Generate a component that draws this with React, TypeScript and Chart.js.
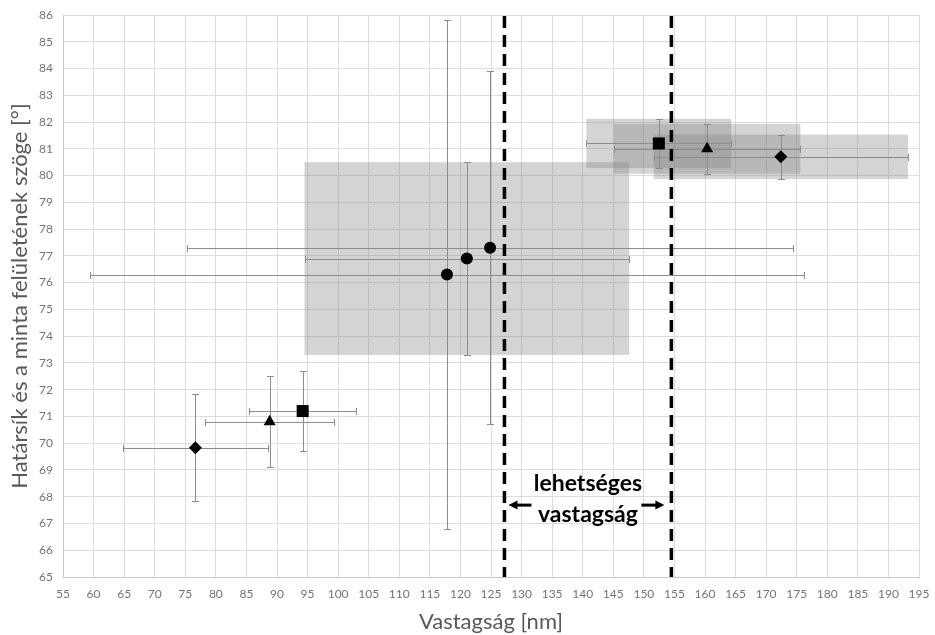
import React, { useEffect, useRef } from "react";
import { Chart, registerables } from "chart.js";

Chart.register(...registerables);

// ---- axis ranges / tick steps ----
const xRange = [55, 195];
const xStep = 5;
const yRange = [65, 86];
const yStep = 1;

// ---- series: circles ----
const circleX = [117.8, 121.05, 124.85];
const circleY = [76.3, 76.9, 77.3];
const circleXErr = [58.4, 26.55, 49.55];
const circleYErr = [9.5, 3.6, 6.6];
const circleBox = [false, true, false];

// ---- series: squares ----
const squareX = [94.2, 152.45];
const squareY = [71.2, 81.2];
const squareXErr = [8.8, 11.85];
const squareYErr = [1.5, 0.92];
const squareBox = [false, true];

// ---- series: triangles ----
const triangleX = [88.8, 160.35];
const triangleY = [70.8, 81.0];
const triangleXErr = [10.5, 15.25];
const triangleYErr = [1.7, 0.93];
const triangleBox = [false, true];

// ---- series: diamonds ----
const diamondX = [76.65, 172.4];
const diamondY = [69.83, 80.7];
const diamondXErr = [11.85, 20.8];
const diamondYErr = [2.0, 0.83];
const diamondBox = [false, true];

// ---- annotation ----
const rangeLines = [127.2, 154.5];
const rangeLabel = ["lehetséges", "vastagság"];
const rangeLabelY = 67.91;

const xTitle = "Vastagság [nm]";
const yTitle = "Határsík és a minta felületének szöge [°]";

const FONT = "Lato, 'Open Sans', sans-serif";

function pts(xs: number[], ys: number[], xe: number[], ye: number[], box: boolean[]) {
  return xs.map((x, i) => ({ x, y: ys[i], xErr: xe[i], yErr: ye[i], box: box[i] }));
}

const overlayPlugin = {
  id: "overlay",
  beforeDatasetsDraw(chart: any) {
    const { ctx, chartArea: a } = chart;
    const xs = chart.scales.x;
    const ys = chart.scales.y;
    ctx.save();
    ctx.beginPath();
    ctx.rect(a.left, a.top, a.right - a.left, a.bottom - a.top);
    ctx.clip();

    // shaded uncertainty boxes
    ctx.fillStyle = "rgba(128,128,128,0.34)";
    chart.data.datasets.forEach((ds: any) => {
      ds.data.forEach((p: any) => {
        if (!p.box) return;
        const x0 = xs.getPixelForValue(p.x - p.xErr);
        const x1 = xs.getPixelForValue(p.x + p.xErr);
        const y0 = ys.getPixelForValue(p.y + p.yErr);
        const y1 = ys.getPixelForValue(p.y - p.yErr);
        ctx.fillRect(x0, y0, x1 - x0, y1 - y0);
      });
    });

    // error bars
    ctx.strokeStyle = "#8c8c8c";
    ctx.lineWidth = 1;
    const cap = 3.5;
    chart.data.datasets.forEach((ds: any) => {
      ds.data.forEach((p: any) => {
        const cx = Math.round(xs.getPixelForValue(p.x)) + 0.5;
        const cy = Math.round(ys.getPixelForValue(p.y)) + 0.5;
        const xl = Math.round(xs.getPixelForValue(p.x - p.xErr)) + 0.5;
        const xr = Math.round(xs.getPixelForValue(p.x + p.xErr)) + 0.5;
        const yt = Math.round(ys.getPixelForValue(p.y + p.yErr)) + 0.5;
        const yb = Math.round(ys.getPixelForValue(p.y - p.yErr)) + 0.5;
        ctx.beginPath();
        ctx.moveTo(xl, cy);
        ctx.lineTo(xr, cy);
        ctx.moveTo(xl, cy - cap);
        ctx.lineTo(xl, cy + cap);
        ctx.moveTo(xr, cy - cap);
        ctx.lineTo(xr, cy + cap);
        ctx.moveTo(cx, yt);
        ctx.lineTo(cx, yb);
        ctx.moveTo(cx - cap, yt);
        ctx.lineTo(cx + cap, yt);
        ctx.moveTo(cx - cap, yb);
        ctx.lineTo(cx + cap, yb);
        ctx.stroke();
      });
    });

    // dashed range lines
    ctx.strokeStyle = "#000";
    ctx.lineWidth = 3.5;
    ctx.setLineDash([12, 7]);
    rangeLines.forEach((v) => {
      const px = xs.getPixelForValue(v);
      ctx.beginPath();
      ctx.moveTo(px, a.top + 1);
      ctx.lineTo(px, a.bottom);
      ctx.stroke();
    });
    ctx.setLineDash([]);
    ctx.restore();
  },
  afterDatasetsDraw(chart: any) {
    const { ctx } = chart;
    const xs = chart.scales.x;
    const ys = chart.scales.y;
    const L = xs.getPixelForValue(rangeLines[0]);
    const R = xs.getPixelForValue(rangeLines[1]);
    const cx = (L + R) / 2;
    const cy = ys.getPixelForValue(rangeLabelY);
    ctx.save();
    ctx.fillStyle = "#000";
    ctx.font = `bold 23px ${FONT}`;
    ctx.textAlign = "center";
    ctx.textBaseline = "middle";
    ctx.fillText(rangeLabel[0], cx, cy - 15.5);
    ctx.fillText(rangeLabel[1], cx, cy + 15.5);

    const ay = cy + 6;
    const drawArrow = (tip: number, dir: number) => {
      const tail = tip + dir * 23;
      ctx.strokeStyle = "#000";
      ctx.lineWidth = 3;
      ctx.beginPath();
      ctx.moveTo(tail, ay);
      ctx.lineTo(tip + dir * 7, ay);
      ctx.stroke();
      ctx.beginPath();
      ctx.moveTo(tip, ay);
      ctx.lineTo(tip + dir * 9, ay - 4.5);
      ctx.lineTo(tip + dir * 9, ay + 4.5);
      ctx.closePath();
      ctx.fill();
    };
    drawArrow(L + 4, 1);
    drawArrow(R - 7, -1);
    ctx.restore();
  },
};

export default function App() {
  const ref = useRef<HTMLCanvasElement>(null);
  useEffect(() => {
    document.body.style.margin = "0";
    const marker = { backgroundColor: "#000", borderColor: "#000", borderWidth: 0, showLine: false };
    const chart = new Chart(ref.current as HTMLCanvasElement, {
      type: "scatter",
      data: {
        datasets: [
          { label: "circle", data: pts(circleX, circleY, circleXErr, circleYErr, circleBox), pointStyle: "circle", pointRadius: 6, ...marker } as any,
          { label: "square", data: pts(squareX, squareY, squareXErr, squareYErr, squareBox), pointStyle: "rect", pointRadius: 8.5, ...marker } as any,
          { label: "triangle", data: pts(triangleX, triangleY, triangleXErr, triangleYErr, triangleBox), pointStyle: "triangle", pointRadius: 7, ...marker } as any,
          { label: "diamond", data: pts(diamondX, diamondY, diamondXErr, diamondYErr, diamondBox), pointStyle: "rectRot", pointRadius: 6.5, ...marker } as any,
        ],
      },
      options: {
        animation: false,
        responsive: true,
        maintainAspectRatio: false,
        events: [],
        layout: { padding: { left: 0, top: 15, right: 16, bottom: 0 } },
        plugins: { legend: { display: false }, tooltip: { enabled: false } },
        scales: {
          x: {
            type: "linear",
            min: xRange[0],
            max: xRange[1],
            afterFit: (s: any) => { s.height = 58; s.paddingLeft = 0; s.paddingRight = 0; },
            ticks: { stepSize: xStep, autoSkip: false, maxRotation: 0, padding: 10, color: "#737373", font: { family: FONT, size: 12 } },
            grid: { color: "#dcdcdc", drawTicks: false },
            border: { color: "#c8c8c8" },
            title: { display: true, text: xTitle, color: "#595959", font: { family: FONT, size: 22 }, padding: { top: 0, bottom: 0 } },
          },
          y: {
            type: "linear",
            min: yRange[0],
            max: yRange[1],
            afterFit: (s: any) => { s.width = 63; s.paddingTop = 0; s.paddingBottom = 0; },
            ticks: { stepSize: yStep, autoSkip: false, padding: 10, color: "#737373", font: { family: FONT, size: 12 } },
            grid: { color: "#dcdcdc", drawTicks: false },
            border: { color: "#c8c8c8" },
            title: { display: true, text: yTitle, color: "#595959", font: { family: FONT, size: 22 }, padding: { top: 7, bottom: 0 } },
          },
        },
      } as any,
      plugins: [overlayPlugin],
    });
    (document as any).fonts?.load?.(`bold 23px Lato`).then(() => chart.update()).catch(() => {});
    return () => chart.destroy();
  }, []);
  return (
    <div style={{ width: 935, height: 635, position: "relative" }}>
      <canvas ref={ref} />
    </div>
  );
}
